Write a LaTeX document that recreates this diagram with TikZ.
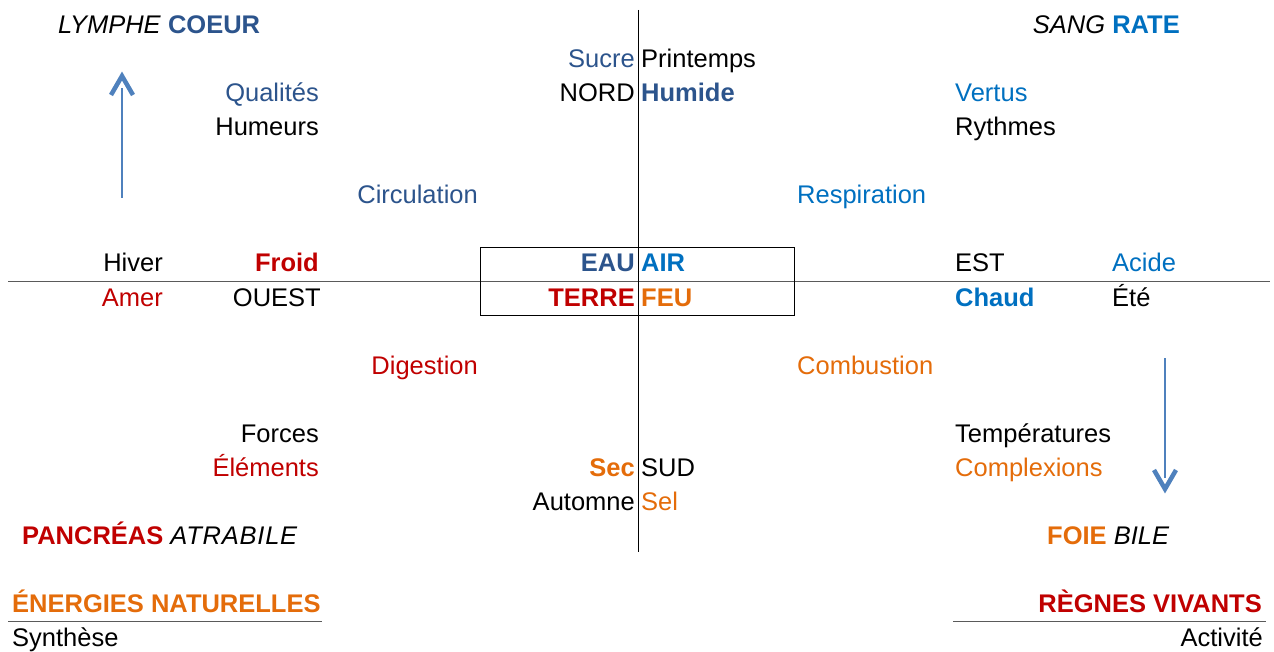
\documentclass[tikz,border=0pt]{standalone}
\usepackage{fontspec}
\setmainfont{Liberation Sans}
\definecolor{dblue}{RGB}{44,84,140}
\definecolor{lblue}{RGB}{0,112,192}
\definecolor{dred}{RGB}{192,0,0}
\definecolor{orng}{RGB}{228,108,10}
\definecolor{arrblue}{RGB}{79,129,189}
\definecolor{lgray}{RGB}{90,90,90}
\newcommand\fsz{\fontsize{25.5}{30}\selectfont}
\begin{document}
\begin{tikzpicture}[x=1pt,y=-1pt,
  txt/.style={font=\fsz, inner sep=0pt},
  R/.style={txt, anchor=base east},
  L/.style={txt, anchor=base west},
  axis/.style={line width=0.9pt, black},
  haxis/.style={line width=0.9pt, lgray},
  rule/.style={line width=0.9pt, lgray},
  shaft/.style={line width=1.8pt, arrblue},
  chevron/.style={line width=4.5pt, arrblue, line join=miter, line cap=butt}]
\useasboundingbox (0,0) rectangle (1274,652);
% axes
\coordinate (vt) at (638,10);
\coordinate (vb) at (638,552);
\coordinate (hl) at (8,281);
\coordinate (hr) at (1270,281);
\draw[haxis] (hl) -- (hr);
\draw[axis] (vt) -- (vb);
\node[draw, line width=0.9pt, minimum width=314pt, minimum height=68pt, inner sep=0pt] (box) at (637,281) {};
% up arrow
\coordinate (ua1) at (122,198);
\coordinate (ua2) at (122,88);
\coordinate (uh1) at (111,95);
\coordinate (uht) at (122,76);
\coordinate (uh2) at (133,95);
\draw[shaft] (ua1) -- (ua2);
\draw[chevron] (uh1) -- (uht) -- (uh2);
% down arrow
\coordinate (da1) at (1165,358);
\coordinate (da2) at (1165,478);
\coordinate (dh1) at (1154,470);
\coordinate (dht) at (1165,489);
\coordinate (dh2) at (1176,470);
\draw[shaft] (da1) -- (da2);
\draw[chevron] (dh1) -- (dht) -- (dh2);
% corners
\node[L] (lymphe) at (58,34) {\textit{LYMPHE} \textcolor{dblue}{\textbf{COEUR}}};
\node[R] (sang) at (1180,34) {\textit{SANG} \textcolor{lblue}{\textbf{RATE}}};
\node[L] (pancreas) at (22,544) {\textcolor{dred}{\textbf{PANCRÉAS}} \textit{\addfontfeature{LetterSpace=3}ATRABILE}};
\node[L] (foie) at (1047,544) {\textcolor{orng}{\textbf{FOIE}} \textit{BILE}};
% top centre
\node[R, dblue] (sucre) at (635,68) {Sucre};
\node[L] (printemps) at (641,68) {Printemps};
\node[R] (nord) at (635,102) {NORD};
\node[L, dblue, font=\fsz\bfseries] (humide) at (641,102) {Humide};
% upper left
\node[R, dblue] (qual) at (319,102) {Qualités};
\node[R] (hum) at (319,136) {Humeurs};
\node[R, dblue] (circ) at (478,204) {Circulation};
% upper right
\node[L, lblue] (vertus) at (955,102) {Vertus};
\node[L] (rythmes) at (955,136) {Rythmes};
\node[L, lblue] (resp) at (797,204) {Respiration};
% middle rows
\node[R] (hiver) at (163,272) {Hiver};
\node[R, dred, font=\fsz\bfseries] (froid) at (319,272) {Froid};
\node[R, dblue, font=\fsz\bfseries] (eau) at (635,272) {EAU};
\node[L, lblue, font=\fsz\bfseries] (air) at (641,272) {AIR};
\node[L] (est) at (955,272) {EST};
\node[L, lblue] (acide) at (1112,272) {Acide};
\node[R, dred] (amer) at (163,306) {Amer};
\node[R] (ouest) at (321,306) {OUEST};
\node[R, dred, font=\fsz\bfseries] (terre) at (635,306) {TERRE};
\node[L, orng, font=\fsz\bfseries] (feu) at (641,306) {FEU};
\node[L, lblue, font=\fsz\bfseries] (chaud) at (955,306) {Chaud};
\node[L] (ete) at (1112,306) {Été};
% lower
\node[R, dred] (dig) at (478,374) {Digestion};
\node[L, orng] (comb) at (797,374) {Combustion};
\node[R] (forces) at (319,442) {Forces};
\node[R, dred] (elem) at (319,476) {Éléments};
\node[L] (temp) at (955,442) {Températures};
\node[L, orng] (compl) at (955,476) {Complexions};
\node[R, orng, font=\fsz\bfseries] (sec) at (635,476) {Sec};
\node[L] (sud) at (641,476) {SUD};
\node[R] (automne) at (635,510) {Automne};
\node[L, orng] (sel) at (641,510) {Sel};
% bottom
\node[L, orng, font=\fsz\bfseries] (energ) at (12,612) {ÉNERGIES NATURELLES};
\node[L] (synth) at (12,646) {Synthèse};
\node[R, dred, font=\fsz\bfseries] (regnes) at (1262,612) {RÈGNES VIVANTS};
\node[R] (activ) at (1263,646) {Activité};
\coordinate (r1a) at (8,621);
\coordinate (r1b) at (322,621);
\coordinate (r2a) at (953,621);
\coordinate (r2b) at (1266,621);
\draw[rule] (r1a) -- (r1b);
\draw[rule] (r2a) -- (r2b);
\end{tikzpicture}
\end{document}
